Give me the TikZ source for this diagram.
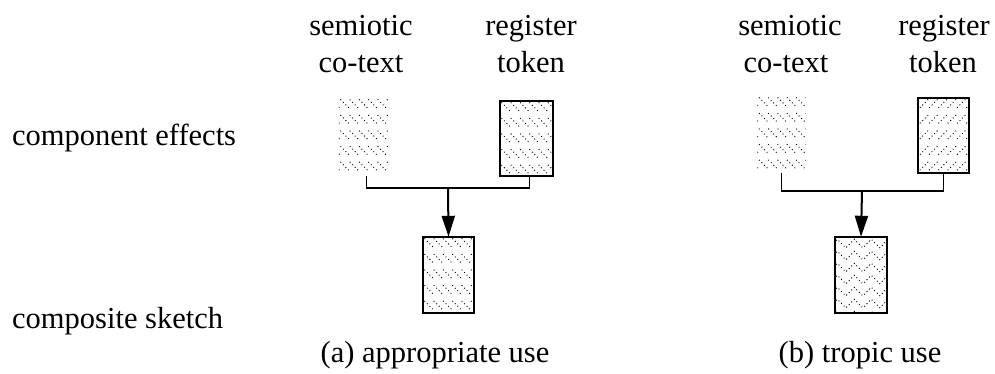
\documentclass[tikz,border=0pt]{standalone}
\usepackage{fontspec}
\setmainfont{Liberation Serif}
\usetikzlibrary{arrows.meta}
\tikzset{
  lbl/.style={anchor=base,inner sep=0pt,font=\fontsize{30.5}{36}\selectfont},
  rowlbl/.style={anchor=base west,inner sep=0pt,font=\fontsize{30.5}{36}\selectfont},
  framebox/.style={draw,line width=1.8pt,inner sep=0pt},
  openbox/.style={inner sep=0pt},
  dotln/.style={line width=1.3pt,line cap=round,dash pattern=on 0pt off 3.6pt},
  conn/.style={line width=1.6pt},
  arr/.style={line width=2pt,-{Triangle[length=21pt,width=13pt]}}
}
\newcommand\backhatch[1]{%
  \begin{scope}
    \clip (#1.north west) rectangle (#1.south east);
    \path (#1.north west) coordinate (tmpnw);
    \foreach \j in {0,...,5}
      \foreach \i in {-1,...,6}
        \draw[dotln] ([shift={(9.3*\i+2,2+15.6*\j)}]tmpnw) -- ++(9.4,9.4);
  \end{scope}}
\newcommand\fwdhatch[1]{%
  \begin{scope}
    \clip (#1.north west) rectangle (#1.south east);
    \path (#1.north west) coordinate (tmpnw);
    \foreach \j in {0,...,5}
      \foreach \i in {-1,...,6}
        \draw[dotln] ([shift={(9.3*\i+10,2+15.6*\j)}]tmpnw) -- ++(-9.4,9.4);
  \end{scope}}
\newcommand\zighatch[1]{%
  \begin{scope}
    \clip (#1.north west) rectangle (#1.south east);
    \path (#1.north west) coordinate (tmpnw);
    \foreach \j in {0,...,6}
      \draw[dotln] ([shift={(-6,11+12*\j)}]tmpnw)
        \foreach \m in {0,...,4} { -- ++(8.5,-8.5) -- ++(8.5,8.5) };
  \end{scope}}
\begin{document}
\begin{tikzpicture}[x=1pt,y=-1pt]
\useasboundingbox (0,0) rectangle (995,373);

% row labels
\node[rowlbl] (rowtop) at (12,145) {component effects};
\node[rowlbl] (rowbot) at (12,328) {composite sketch};

% ---------- (a) ----------
\node[lbl] (sAt1) at (361,35) {semiotic};
\node[lbl] (sAt2) at (361,72) {co-text};
\node[lbl] (rAt1) at (531,35) {register};
\node[lbl] (rAt2) at (531,72) {token};

\node[openbox,minimum width=49pt,minimum height=78pt] (sA) at (363.5,137) {};
\node[openbox,minimum width=53pt,minimum height=75pt] (rA) at (526.5,138.5) {};
\node[openbox,minimum width=51pt,minimum height=76pt] (cA) at (448.5,275) {};
\backhatch{sA}
\backhatch{rA}
\backhatch{cA}
\node[framebox,minimum width=53pt,minimum height=75pt] at (rA) {};
\node[framebox,minimum width=51pt,minimum height=76pt] at (cA) {};

\coordinate (jA) at (448,188);
\draw[conn] ([xshift=3pt]sA.south) |- (jA) -| ([xshift=3pt]rA.south);
\draw[arr] (jA) -- (cA.north);

\node[lbl] (capA) at (435,362) {(a) appropriate use};

% ---------- (b) ----------
\node[lbl] (sBt1) at (790,35) {semiotic};
\node[lbl] (sBt2) at (786,72) {co-text};
\node[lbl] (rBt1) at (944,35) {register};
\node[lbl] (rBt2) at (943,72) {token};

\node[openbox,minimum width=48pt,minimum height=77pt] (sB) at (781.5,134.5) {};
\node[openbox,minimum width=51pt,minimum height=75pt] (rB) at (943.5,135.5) {};
\node[openbox,minimum width=52pt,minimum height=76pt] (cB) at (861,275) {};
\backhatch{sB}
\fwdhatch{rB}
\zighatch{cB}
\node[framebox,minimum width=51pt,minimum height=75pt] at (rB) {};
\node[framebox,minimum width=52pt,minimum height=76pt] at (cB) {};

\coordinate (jB) at (862,191);
\draw[conn] (sB.south) |- (jB) -| (rB.south);
\draw[arr] (jB) -- (cB.north);

\node[lbl] (capB) at (860,362) {(b) tropic use};
\end{tikzpicture}
\end{document}
